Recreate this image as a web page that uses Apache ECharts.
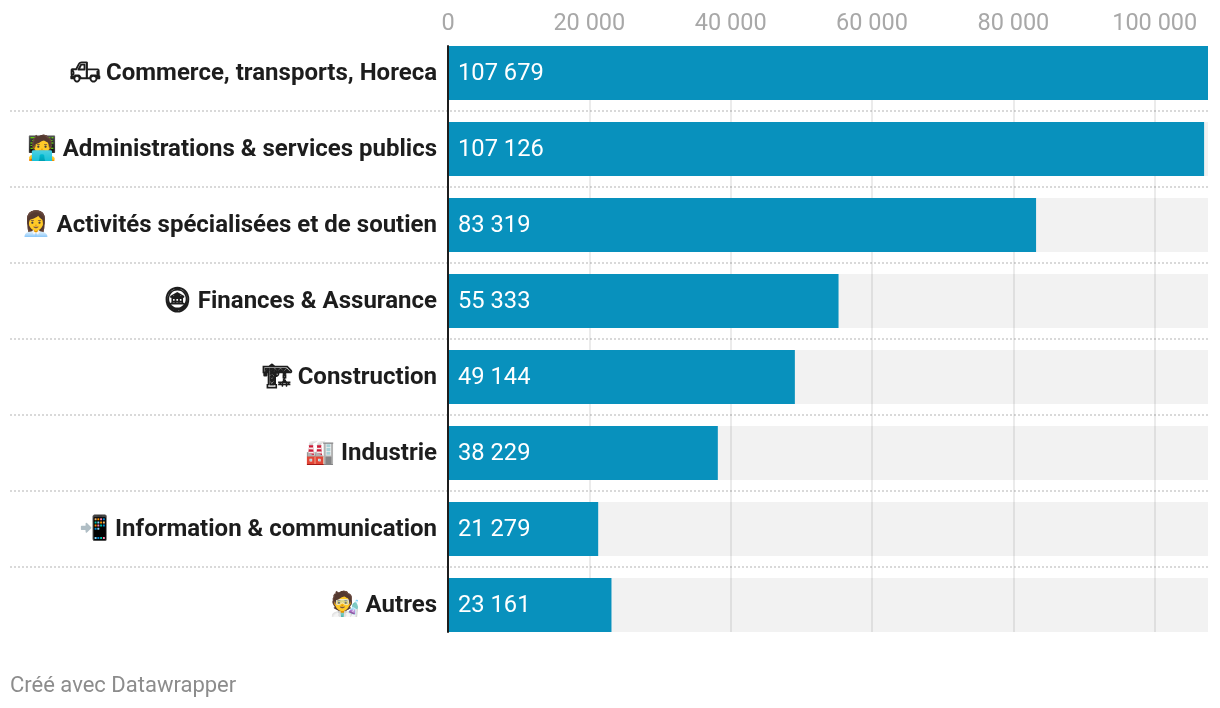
<!DOCTYPE html>
<html>
<head>
<meta charset="utf-8">
<style>html,body{margin:0;padding:0;background:#fff}#c{width:1220px;height:708px}</style>
<script src="https://cdn.jsdelivr.net/npm/echarts@6/dist/echarts.min.js"></script>
</head>
<body>
<div id="c"></div>
<script>
const categories = [
  "🛻\uFE0E Commerce, transports, Horeca",
  "🧑‍💻 Administrations & services publics",
  "👩‍💼 Activités spécialisées et de soutien",
  "🪙\uFE0E Finances & Assurance",
  "🏗\uFE0E Construction",
  "🏭 Industrie",
  "📲 Information & communication",
  "🧑‍🔬 Autres"
];
const values = [107679, 107126, 83319, 55333, 49144, 38229, 21279, 23161];
const trackValues = [107679, 107679, 107679, 107679, 107679, 107679, 107679, 107679];
const tickLabels = ["0", "20 000", "40 000", "60 000", "80 000", "100 000"];
const footer = "Créé avec Datawrapper";
const axisMax = 107679;
const tickStep = 20000;

const fmt = v => String(v).replace(/\B(?=(\d{3})+$)/g, " ");
const FONT = "Roboto, sans-serif";
const chart = echarts.init(document.getElementById('c'), null, {renderer: 'canvas'});
chart.setOption({
  animation: false,
  backgroundColor: '#fff',
  textStyle: {fontFamily: FONT},
  title: {
    text: footer, left: 10, top: 675,
    textStyle: {fontFamily: FONT, fontSize: 22, fontWeight: 400, color: '#8c8c8c'},
    padding: 0
  },
  grid: [
    {left: 10, right: 12, top: 35, height: 608},   // row separators
    {left: 448, right: 12, top: 35, height: 608},  // bars
    {left: 448, right: 11, top: 46, height: 586},  // value ticks, grid lines, baseline
    {left: 448, right: 12, top: 36, height: 608}   // category labels
  ],
  xAxis: [
    {gridIndex: 0, type: 'value', min: 0, max: 1, show: false},
    {gridIndex: 1, type: 'value', min: 0, max: axisMax, show: false},
    {
      gridIndex: 2, type: 'value', position: 'top', min: 0, max: axisMax, interval: tickStep,
      axisLine: {show: false}, axisTick: {show: false},
      axisLabel: {
        showMaxLabel: false, margin: 10, fontFamily: FONT, fontSize: 23.5, color: '#a8a8a8',
        formatter: v => tickLabels[Math.round(v / tickStep)] ?? ''
      },
      splitLine: {show: true, showMinLine: false, showMaxLine: false, lineStyle: {color: 'rgba(0,0,0,0.08)', width: 2}}
    },
    {gridIndex: 3, type: 'value', min: 0, max: 1, show: false}
  ],
  yAxis: [
    {
      gridIndex: 0, type: 'category', inverse: true, data: categories,
      axisLine: {show: false}, axisTick: {show: false}, axisLabel: {show: false},
      splitLine: {show: true, showMinLine: false, showMaxLine: false,
        lineStyle: {color: '#d9d9d9', width: 2, type: [2, 2]}}
    },
    {
      gridIndex: 1, type: 'category', inverse: true, data: categories,
      axisLine: {show: false}, axisTick: {show: false}, axisLabel: {show: false},
      splitLine: {show: false}
    },
    {
      gridIndex: 2, type: 'category', inverse: true, data: categories, z: 5,
      axisLine: {show: true, lineStyle: {color: '#1d1d1d', width: 2}},
      axisTick: {show: false}, axisLabel: {show: false}, splitLine: {show: false}
    },
    {
      gridIndex: 3, type: 'category', inverse: true, data: categories,
      axisLine: {show: false}, axisTick: {show: false},
      axisLabel: {margin: 11, fontFamily: FONT, fontSize: 24, fontWeight: 700, color: '#1d1d1d'},
      splitLine: {show: false}
    }
  ],
  series: [
    {
      name: 'track', type: 'bar', xAxisIndex: 1, yAxisIndex: 1, data: trackValues,
      barWidth: 54, barGap: '-100%', z: -1, silent: true,
      itemStyle: {color: '#f2f2f2'}
    },
    {
      name: 'value', type: 'bar', xAxisIndex: 1, yAxisIndex: 1, data: values,
      barWidth: 54, barGap: '-100%', z: 2,
      itemStyle: {color: '#0891bd'},
      label: {
        show: true, position: 'insideLeft', distance: 10, offset: [0, 1],
        fontFamily: FONT, fontSize: 23.7, color: '#fff',
        formatter: p => fmt(p.value)
      }
    }
  ]
});
</script>
</body>
</html>
